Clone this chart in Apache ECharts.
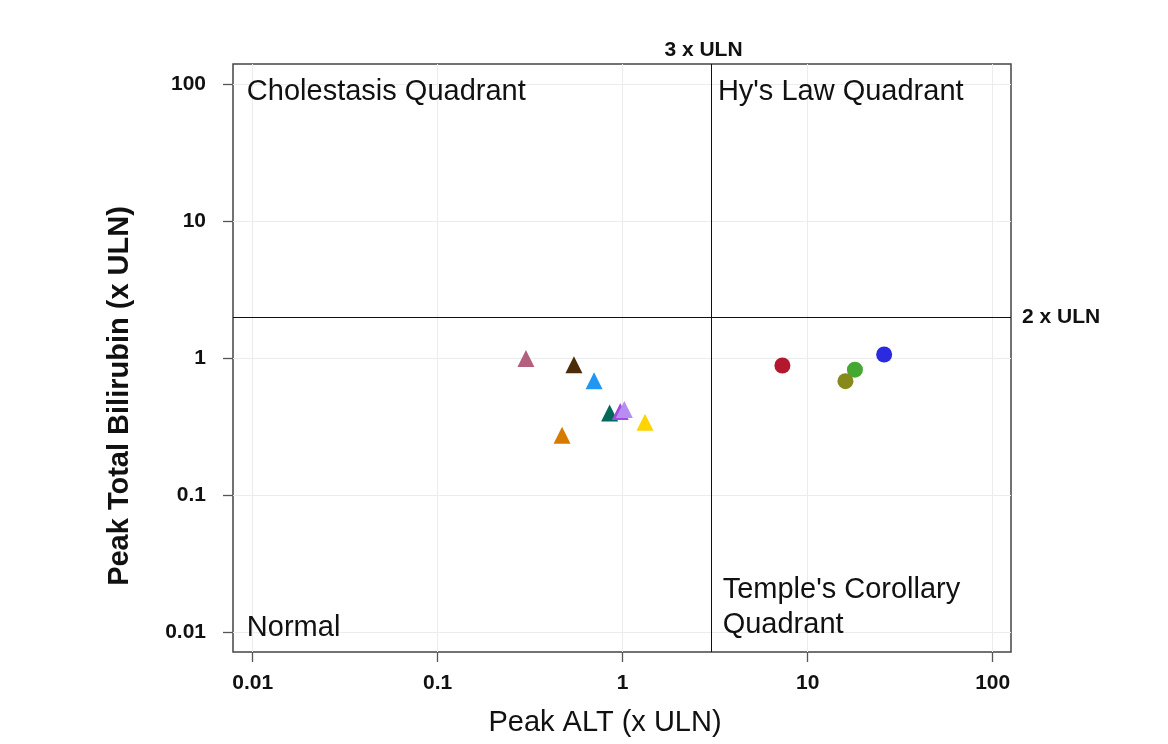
<!DOCTYPE html>
<html>
<head>
<meta charset="utf-8">
<script src="https://cdn.jsdelivr.net/npm/echarts@6/dist/echarts.min.js"></script>
<style>html,body{margin:0;padding:0;background:#fff;}#c{width:1168px;height:744px;}</style>
</head>
<body>
<div id="c"></div>
<script>
// ---- data ----
const tickValues = [0.01, 0.1, 1, 10, 100];
const tickLabels = ['0.01', '0.1', '1', '10', '100'];

const triALT    = [0.30, 0.545, 0.70, 0.47, 0.85, 0.97, 1.02, 1.32];
const triBili   = [1.00, 0.90, 0.69, 0.276, 0.40, 0.41, 0.425, 0.343];
const triColors = ['#b3607f', '#4d2c0a', '#2196f3', '#d67b00', '#006a58', '#a24ae6', '#b58ef0', '#ffd400'];

const circALT    = [7.3, 18.0, 16.0, 25.9];
const circBili   = [0.89, 0.83, 0.684, 1.07];
const circColors = ['#b3182f', '#45a832', '#87891d', '#2a2ae0'];

const altLimit = 3;   // 3 x ULN
const biliLimit = 2;  // 2 x ULN
const altLimitLabel = '3 x ULN';
const biliLimitLabel = '2 x ULN';

const quadrantNames = ['Cholestasis Quadrant', "Hy's Law Quadrant", 'Normal', "Temple's Corollary\nQuadrant"];
const quadrantAnchors = [[0.0093, 88], [3.27, 88], [0.0093, 0.01078], [3.47, 0.0152]];

// ---- helpers ----
const L = Math.log10;
const FONT = "'Liberation Sans', Arial, Helvetica, sans-serif";
const tickLog = tickValues.map(L);
const labelFor = v => {
  const i = tickLog.findIndex(t => Math.abs(t - v) < 1e-6);
  return i >= 0 ? tickLabels[i] : '';
};

const chart = echarts.init(document.getElementById('c'));
const option = {
  backgroundColor: '#fff',
  animation: false,
  grid: { left: 233, right: 157, top: 64, bottom: 92, show: true, borderColor: '#444', borderWidth: 1.5, backgroundColor: 'transparent' },
  xAxis: {
    type: 'value', min: -2.1065, max: 2.099,
    axisLine: { show: false, onZero: false },
    axisTick: { show: true, length: 10, inside: false, customValues: tickLog, lineStyle: { color: '#555', width: 1.3 } },
    axisLabel: { customValues: tickLog, formatter: labelFor, margin: 21, fontFamily: FONT, fontWeight: 'bold', fontSize: 21, color: '#111' },
    splitLine: { show: true, lineStyle: { color: '#ececec', width: 1 } }
  },
  yAxis: {
    type: 'value', min: -2.141, max: 2.149,
    axisLine: { show: false, onZero: false },
    axisTick: { show: true, length: 10, inside: false, customValues: tickLog, lineStyle: { color: '#555', width: 1.3 } },
    axisLabel: { customValues: tickLog, formatter: labelFor, margin: 27, fontFamily: FONT, fontWeight: 'bold', fontSize: 21, color: '#111' },
    splitLine: { show: true, lineStyle: { color: '#ececec', width: 1 } }
  },
  graphic: [
    { type: 'text', x: 605, y: 723, style: { text: 'Peak ALT (x ULN)', font: '29px ' + FONT, fill: '#111', textAlign: 'center', textVerticalAlign: 'middle' } },
    { type: 'text', x: 120, y: 396, rotation: Math.PI / 2, style: { text: 'Peak Total Bilirubin (x ULN)', font: 'bold 29px ' + FONT, fill: '#111', textAlign: 'center', textVerticalAlign: 'middle' } }
  ],
  series: [
    {
      type: 'scatter', silent: true, symbolSize: 0, z: 1,
      itemStyle: { opacity: 1 },
      data: quadrantAnchors.map((p, i) => ({ value: [L(p[0]), L(p[1])], name: quadrantNames[i] })),
      label: { show: true, position: 'right', distance: 0, formatter: p => p.name, fontFamily: FONT, fontSize: 29, color: '#111', opacity: 1, lineHeight: 35 },
      markLine: {
        silent: true, symbol: 'none', animation: false,
        lineStyle: { color: '#111', width: 1, type: 'solid', opacity: 1 },
        label: { show: true, position: 'end', fontFamily: FONT, fontWeight: 'bold', fontSize: 21, color: '#111' },
        data: [
          { xAxis: L(altLimit), label: { formatter: altLimitLabel, distance: 3, padding: [0, 16, 0, 0] } },
          { yAxis: L(biliLimit), label: { formatter: biliLimitLabel, distance: 11 } }
        ]
      }
    },
    {
      type: 'scatter', symbol: 'triangle', symbolSize: 17, z: 3,
      itemStyle: { opacity: 1 },
      data: triALT.map((x, i) => ({ value: [L(x), L(triBili[i])], itemStyle: { color: triColors[i], opacity: 1 } }))
    },
    {
      type: 'scatter', symbol: 'circle', symbolSize: 16, z: 3,
      itemStyle: { opacity: 1 },
      data: circALT.map((x, i) => ({ value: [L(x), L(circBili[i])], itemStyle: { color: circColors[i], opacity: 1 } }))
    }
  ]
};
chart.setOption(option);
</script>
</body>
</html>
